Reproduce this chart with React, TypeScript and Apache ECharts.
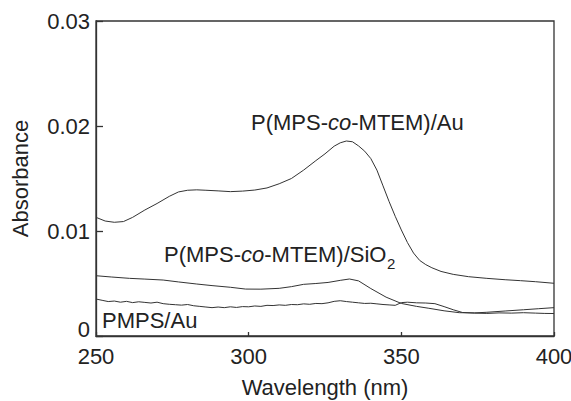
import React, { useEffect, useRef } from "react";
import * as echarts from "echarts";

// P(MPS-co-MTEM)/Au
const auWl = [250, 253, 256, 259, 262, 266, 270, 274, 277, 280, 283, 286, 290, 294, 298, 302, 306, 310, 314, 318, 322, 325, 328, 330, 332, 334, 336, 338, 340, 342, 344, 346, 348, 350, 352, 354, 356, 358, 360, 363, 367, 372, 378, 384, 389, 394, 400];
const auAbs = [0.0113, 0.01095, 0.01083, 0.0109, 0.0113, 0.012, 0.01262, 0.0133, 0.01372, 0.01388, 0.01392, 0.01388, 0.01382, 0.01375, 0.0138, 0.0139, 0.0141, 0.0145, 0.015, 0.0158, 0.0167, 0.01735, 0.01808, 0.0184, 0.01857, 0.0185, 0.0181, 0.0176, 0.0169, 0.0158, 0.0143, 0.0128, 0.0114, 0.0101, 0.0089, 0.0079, 0.0072, 0.0068, 0.0065, 0.00615, 0.00587, 0.00565, 0.00549, 0.00536, 0.00527, 0.00517, 0.00502];

// P(MPS-co-MTEM)/SiO2
const siWl = [250, 255, 261, 266, 272, 277, 283, 288, 294, 299, 304, 310, 314, 318, 322, 326, 330, 333, 336, 340, 345, 350, 355, 359, 364, 369, 374, 378, 384, 390, 395, 400];
const siAbs = [0.00574, 0.00562, 0.00549, 0.00542, 0.00533, 0.00515, 0.00495, 0.0048, 0.00464, 0.00447, 0.00446, 0.00454, 0.0047, 0.00492, 0.005, 0.0051, 0.0053, 0.00543, 0.00525, 0.00452, 0.0037, 0.0031, 0.00282, 0.00264, 0.0024, 0.00222, 0.0022, 0.00226, 0.00238, 0.0025, 0.0026, 0.0027];

// PMPS/Au
const pmWl = [250, 252, 254, 256, 258, 260, 262, 264, 266, 268, 270, 272, 274, 276, 278, 280, 282, 284, 286, 288, 290, 292, 294, 296, 298, 300, 302, 304, 306, 308, 310, 312, 314, 316, 318, 320, 322, 324, 326, 328, 330, 332, 334, 336, 338, 340, 342, 344, 346, 348, 350, 352, 355, 358, 361, 364, 367, 370, 374, 378, 382, 386, 390, 394, 397, 400];
const pmAbs = [0.00352, 0.0034, 0.00328, 0.00333, 0.00322, 0.0033, 0.00318, 0.00326, 0.0032, 0.00314, 0.00322, 0.00308, 0.00302, 0.00298, 0.00294, 0.003, 0.00288, 0.00282, 0.00276, 0.0027, 0.00276, 0.0027, 0.00278, 0.00272, 0.0028, 0.00278, 0.00286, 0.00282, 0.00292, 0.0029, 0.00296, 0.00292, 0.003, 0.00298, 0.00306, 0.00302, 0.0031, 0.00308, 0.00316, 0.0033, 0.00336, 0.00328, 0.00322, 0.00316, 0.0031, 0.00312, 0.00306, 0.003, 0.00296, 0.00292, 0.00318, 0.00322, 0.00316, 0.00314, 0.00308, 0.0028, 0.0025, 0.00224, 0.00218, 0.00215, 0.0022, 0.00218, 0.00222, 0.00218, 0.00215, 0.00214];

const xTicks = { min: 250, max: 400, interval: 50 };
const yTicks = { min: 0, max: 0.03, interval: 0.01 };

const FONT = "'Liberation Sans', Arial, Helvetica, sans-serif";
const INK = "#222";

const pairs = (xs: number[], ys: number[]) => xs.map((x, i) => [x, ys[i]]);

export default function App() {
  const ref = useRef<HTMLDivElement>(null);
  useEffect(() => {
    if (!ref.current) return;
    const chart = echarts.init(ref.current, undefined, { renderer: "svg" });
    const lineSeries = (name: string, data: number[][]) => ({
      name,
      type: "line",
      data,
      showSymbol: false,
      symbol: "none",
      lineStyle: { color: "#333", width: 1 },
      z: 3,
    });
    chart.setOption({
      animation: false,
      backgroundColor: "#fff",
      grid: {
        left: 96,
        right: 17,
        top: 21,
        bottom: 65,
        outerBoundsMode: "none",
        containLabel: false,
        show: true,
        borderColor: "#333",
        borderWidth: 1.3,
        backgroundColor: "transparent",
      },
      xAxis: {
        type: "value",
        min: xTicks.min,
        max: xTicks.max,
        interval: xTicks.interval,
        name: "Wavelength (nm)",
        nameLocation: "middle",
        nameGap: 40,
        nameTextStyle: { fontFamily: FONT, fontSize: 22, color: INK },
        axisLine: { show: true, lineStyle: { color: "#333", width: 1.3 } },
        axisTick: { show: true, inside: true, length: 4, lineStyle: { color: "#333", width: 1.3 } },
        axisLabel: { fontFamily: FONT, fontSize: 22, color: INK, margin: 9 },
        splitLine: { show: false },
      },
      yAxis: {
        type: "value",
        min: yTicks.min,
        max: yTicks.max,
        interval: yTicks.interval,
        name: "Absorbance",
        nameLocation: "middle",
        nameGap: 65,
        nameTextStyle: { fontFamily: FONT, fontSize: 22, color: INK },
        axisLine: { show: true, lineStyle: { color: "#333", width: 1.3 } },
        axisTick: { show: true, inside: true, length: 7, lineStyle: { color: "#333", width: 1.3 } },
        axisLabel: {
          fontFamily: FONT,
          fontSize: 22,
          color: INK,
          margin: 6,
          formatter: (v: number) => (v === 0 ? "{z|0}" : v.toFixed(2)),
          rich: { z: { fontFamily: FONT, fontSize: 22, color: INK, padding: [0, 0, 14, 0] } },
        },
        splitLine: { show: false },
      },
      graphic: [
        {
          type: "text",
          left: 251,
          top: 111,
          style: {
            text: "P(MPS-{i|co}-MTEM)/Au",
            font: `22px ${FONT}`,
            fill: INK,
            rich: { i: { fontStyle: "italic", fontSize: 22, fontFamily: FONT, fill: INK } },
          },
        },
        {
          type: "text",
          left: 164,
          top: 243,
          style: {
            text: "P(MPS-{i|co}-MTEM)/SiO",
            font: `22px ${FONT}`,
            fill: INK,
            rich: { i: { fontStyle: "italic", fontSize: 22, fontFamily: FONT, fill: INK } },
          },
        },
        {
          type: "text",
          left: 387,
          top: 256,
          style: { text: "2", font: `15px ${FONT}`, fill: INK },
        },
        {
          type: "text",
          left: 102,
          top: 309,
          style: { text: "PMPS/Au", font: `22px ${FONT}`, fill: INK },
        },
      ],
      series: [
        lineSeries("P(MPS-co-MTEM)/Au", pairs(auWl, auAbs)),
        lineSeries("P(MPS-co-MTEM)/SiO2", pairs(siWl, siAbs)),
        lineSeries("PMPS/Au", pairs(pmWl, pmAbs)),
      ],
    });
    return () => chart.dispose();
  }, []);
  return <div ref={ref} style={{ position: "fixed", left: 0, top: 0, width: 571, height: 401 }} />;
}
